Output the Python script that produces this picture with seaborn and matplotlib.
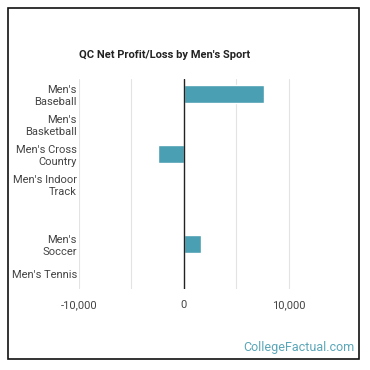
import pandas as pd
import seaborn as sns
import matplotlib.pyplot as plt
from matplotlib.patches import Rectangle

# data
sports = ["Men's\nBaseball", "Men's\nBasketball", "Men's Cross\nCountry",
          "Men's Indoor\nTrack", "", "Men's\nSoccer", "Men's Tennis"]
profit = [7700, -60, -2450, -60, -60, 1600, -60]
tick_vals = [-10000, -5000, 0, 5000, 10000]
tick_text = ["-10,000", "", "0", "", "10,000"]

df = pd.DataFrame({"sport": sports, "profit": profit})

sns.set_style("white")
plt.rcParams["font.family"] = ["Roboto", "DejaVu Sans"]

fig = plt.figure(figsize=(3.7, 3.7), dpi=100)
ax = fig.add_axes([79 / 370, 81 / 370, 262 / 370, 210 / 370])

sns.barplot(data=df, x="profit", y="sport", orient="h", color="#4a9fb2",
            saturation=1, width=0.63, ax=ax)

ax.set_xlim(-10000, 15000)
ax.set_xticks(tick_vals)
ax.set_xticklabels(tick_text, fontsize=8, color="#444444")
ax.tick_params(axis="x", length=5, color="#cccccc", pad=3)
ax.get_xticklines()[4].set_color("#222222")
ax.set_yticks(range(len(sports)))
ax.set_yticklabels(sports, fontsize=8, color="#444444", ha="right", ma="right")
ax.tick_params(axis="y", length=0, pad=1.5)

ax.set_xlabel("")
ax.set_ylabel("")
for s in ax.spines.values():
    s.set_visible(False)

for v in tick_vals:
    if v != 0:
        ax.axvline(v, color="#e3e3e3", lw=0.8, zorder=0)
ax.axvline(0, color="#222222", lw=1.0, zorder=3)

fig.text(165 / 370, 315 / 370, "QC Net Profit/Loss by Men's Sport", ha="center",
         va="center", fontsize=8, fontweight="bold", color="#222222")
fig.text(355 / 370, 22 / 370, "CollegeFactual.com", ha="right", va="center",
         fontsize=9, color="#5aa6b8")

fig.patches.append(Rectangle((8 / 370, 11 / 370), 351 / 370, 351 / 370,
                             transform=fig.transFigure, fill=False,
                             edgecolor="#111111", lw=1.2))

fig.savefig("out.png", dpi=100)
